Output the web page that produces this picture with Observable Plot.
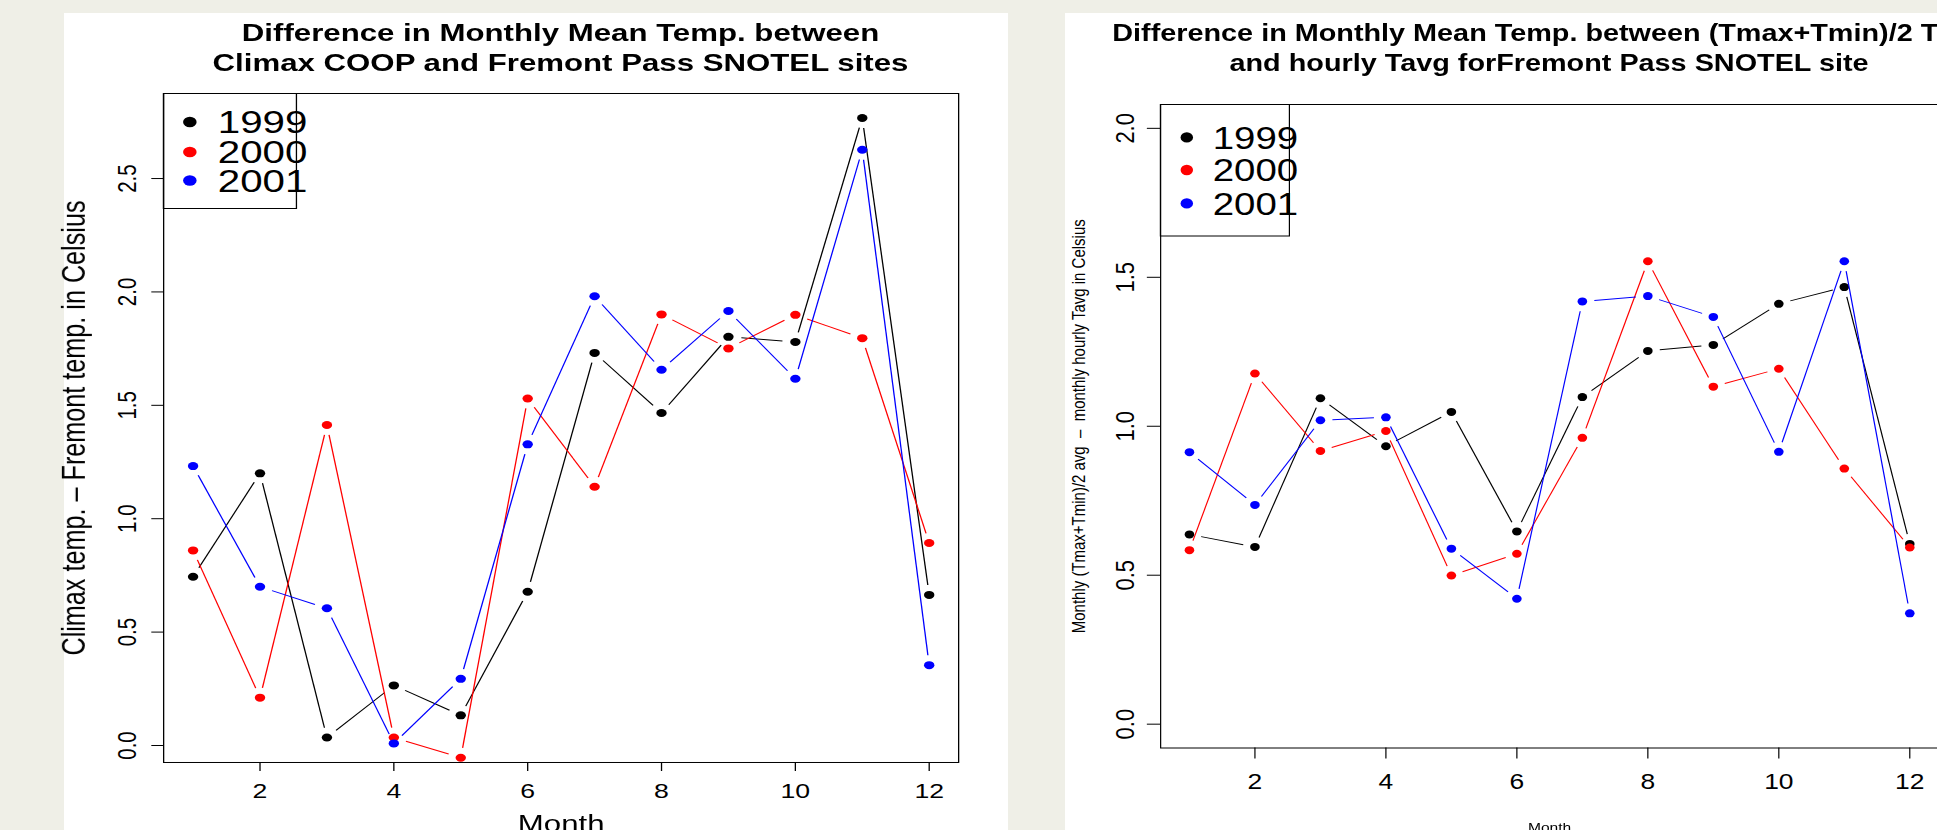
<!DOCTYPE html>
<html><head><meta charset="utf-8">
<script src="https://cdn.jsdelivr.net/npm/d3@7"></script>
<script src="https://cdn.jsdelivr.net/npm/@observablehq/plot@0.6"></script>
<style>
html,body{margin:0;padding:0;background:#efefe7;width:1937px;height:830px;overflow:hidden;font-family:"Liberation Sans",Arial,Helvetica,sans-serif;}
.panel{position:absolute;background:#fff;transform-origin:0 0;overflow:visible;}
.panel > svg{position:absolute;left:0;top:0;overflow:visible;}
.title{position:absolute;font-weight:bold;font-size:24px;line-height:30px;text-align:center;white-space:nowrap;color:#000;}
</style></head><body>
<div id="left" class="panel"></div>
<div id="right" class="panel"></div>
<script>
// ---- data ----
const months = [1,2,3,4,5,6,7,8,9,10,11,12];
const monthTicks = [2,4,6,8,10,12];
const years = ["1999","2000","2001"];
const yearColors = ["#000000","#ff0000","#0000ff"];

// Left: Climax COOP minus Fremont Pass SNOTEL
const climax1999 = [0.744, 1.200, 0.035, 0.265, 0.133, 0.678, 1.731, 1.466, 1.802, 1.779, 2.767, 0.664];
const climax2000 = [0.860, 0.211, 1.413, 0.035, -0.054, 1.530, 1.141, 1.901, 1.751, 1.899, 1.796, 0.893];
const climax2001 = [1.232, 0.700, 0.605, 0.009, 0.294, 1.328, 1.981, 1.657, 1.916, 1.617, 2.627, 0.354];
const leftTicks = [0, 0.5, 1.0, 1.5, 2.0, 2.5];

// Right: (Tmax+Tmin)/2 minus hourly Tavg, Fremont Pass
const tavg1999 = [0.637, 0.595, 1.094, 0.933, 1.048, 0.647, 1.098, 1.253, 1.273, 1.411, 1.467, 0.605];
const tavg2000 = [0.584, 1.177, 0.917, 0.984, 0.499, 0.572, 0.961, 1.554, 1.133, 1.193, 0.858, 0.593];
const tavg2001 = [0.913, 0.736, 1.020, 1.030, 0.589, 0.421, 1.419, 1.437, 1.367, 0.914, 1.554, 0.372];
const rightTicks = [0, 0.5, 1.0, 1.5, 2.0];

const FONT = '"Liberation Sans", Arial, Helvetica, sans-serif';

function buildPanel(el, cfg) {
  const {left, top, k, W, H, ml, mr, mt, mb, yDomain, yTicks, series, titleLines,
         ylabel, ylabelSize, ylabelX, xlabelSize, xlabelBase, tickSize, tickFont,
         yPad, xPad, gap, lg} = cfg;
  el.style.left = left + "px";
  el.style.top = top + "px";
  el.style.width = W + "px";
  el.style.height = H + "px";
  el.style.transform = `scaleX(${k})`;

  const xDomain = [0.56, 12.44];
  const xs = Plot.scale({x: {domain: xDomain, range: [ml, W - mr]}});
  const ys = Plot.scale({y: {domain: yDomain, range: [H - mb, mt]}});

  const marks = [];
  series.forEach((vals, si) => {
    const pts = months.map((m, i) => ({month: m, value: vals[i]}));
    const segs = [];
    for (let i = 0; i < pts.length - 1; i++) {
      const a = pts[i], b = pts[i + 1];
      const ax = xs.apply(a.month), ay = ys.apply(a.value);
      const bx = xs.apply(b.month), by = ys.apply(b.value);
      const L = Math.hypot(bx - ax, by - ay);
      if (L <= 2 * gap) continue;
      const t = gap / L;
      segs.push({
        x1: a.month + t * (b.month - a.month), y1: a.value + t * (b.value - a.value),
        x2: b.month - t * (b.month - a.month), y2: b.value - t * (b.value - a.value)
      });
    }
    marks.push(Plot.link(segs, {x1: "x1", y1: "y1", x2: "x2", y2: "y2", stroke: yearColors[si], strokeWidth: 1}));
    marks.push(Plot.dot(pts, {x: "month", y: "value", r: 4, fill: yearColors[si], stroke: "none"}));
  });
  marks.push(Plot.frame({stroke: "#000", strokeWidth: 1}));
  marks.push(Plot.axisX(monthTicks, {tickSize, tickPadding: xPad, fontSize: tickFont, label: null, fontFamily: FONT}));
  marks.push(Plot.axisY(yTicks, {tickSize, tickPadding: yPad, tickRotate: -90, tickFormat: d3.format(".1f"),
                                 fontSize: tickFont, label: null, fontFamily: FONT}));
  marks.push(Plot.text(["Month"], {frameAnchor: "bottom", textAnchor: "middle", lineAnchor: "bottom",
                                   dy: xlabelBase - (H - mb), fontSize: xlabelSize, fontFamily: FONT}));
  marks.push(Plot.text([ylabel], {frameAnchor: "left", textAnchor: "middle", lineAnchor: "bottom", rotate: -90,
                                  dx: ylabelX - ml, fontSize: ylabelSize, fontFamily: FONT}));

  const chart = Plot.plot({
    width: W, height: H,
    marginLeft: ml, marginRight: mr, marginTop: mt, marginBottom: mb,
    x: {domain: xDomain},
    y: {domain: yDomain},
    style: {background: "transparent", fontFamily: FONT, color: "#000", overflow: "visible"},
    marks
  });
  el.appendChild(chart);

  // title
  const cx = (ml + W - mr) / 2;
  const t = document.createElement("div");
  t.className = "title";
  t.style.left = (cx - 700) + "px";
  t.style.width = "1400px";
  t.style.top = "4.7px";
  t.innerHTML = titleLines.join("<br>");
  el.appendChild(t);

  // legend
  const lsvg = d3.create("svg")
    .attr("width", lg.w + 40).attr("height", lg.h + 2)
    .style("position", "absolute").style("left", (ml - 0.5) + "px").style("top", (mt - 0.5) + "px")
    .style("overflow", "visible");
  years.forEach((y, i) => {
    const cy = lg.rows[i];
    lsvg.append("circle").attr("cx", lg.dotX).attr("cy", cy).attr("r", lg.r).attr("fill", yearColors[i]);
    lsvg.append("text").attr("x", lg.textX).attr("y", cy + 0.358 * lg.font)
      .attr("font-size", lg.font).attr("font-family", FONT).attr("fill", "#000").text(y);
  });
  lsvg.append("rect").attr("x", 0.5).attr("y", 0.5).attr("width", lg.w).attr("height", lg.h)
    .attr("fill", "none").attr("stroke", "#000").attr("stroke-width", 1);
  el.appendChild(lsvg.node());
}

buildPanel(document.getElementById("left"), {
  left: 64, top: 13, k: 1.3, W: 726.2, H: 817,
  ml: 76.15, mr: 38.5, mt: 80, mb: 68,
  yDomain: [-0.075, 2.875], yTicks: leftTicks,
  series: [climax1999, climax2000, climax2001],
  titleLines: ["Difference in Monthly Mean Temp. between", "Climax COOP and Fremont Pass SNOTEL sites"],
  ylabel: "Climax temp. \u2013 Fremont temp. in Celsius", ylabelSize: 25.2, ylabelX: 15.4,
  xlabelSize: 24, xlabelBase: 819,
  tickSize: 9, tickFont: 20.5, yPad: 12.5, xPad: 11.8, gap: 10,
  lg: {w: 102.3, h: 115, dotX: 20.8, textX: 42.3, rows: [29, 59, 87.5], r: 5.2, font: 31}
});

buildPanel(document.getElementById("right"), {
  left: 1065, top: 13, k: 1.2, W: 760, H: 817,
  ml: 79.2, mr: 32.5, mt: 91, mb: 82.5,
  yDomain: [-0.08, 2.08], yTicks: rightTicks,
  series: [tavg1999, tavg2000, tavg2001],
  titleLines: ["Difference in Monthly Mean Temp. between (Tmax+Tmin)/2 Tavg", "and hourly Tavg forFremont Pass SNOTEL site"],
  ylabel: "Monthly (Tmax+Tmin)/2 avg  \u2013  monthly hourly Tavg in Celsius", ylabelSize: 15, ylabelX: 16.3,
  xlabelSize: 13, xlabelBase: 818,
  tickSize: 11, tickFont: 22, yPad: 11.4, xPad: 14.2, gap: 10,
  lg: {w: 107.5, h: 131.5, dotX: 22.5, textX: 44.1, rows: [33.4, 66, 99.4], r: 5.2, font: 32}
});
</script>
</body></html>
